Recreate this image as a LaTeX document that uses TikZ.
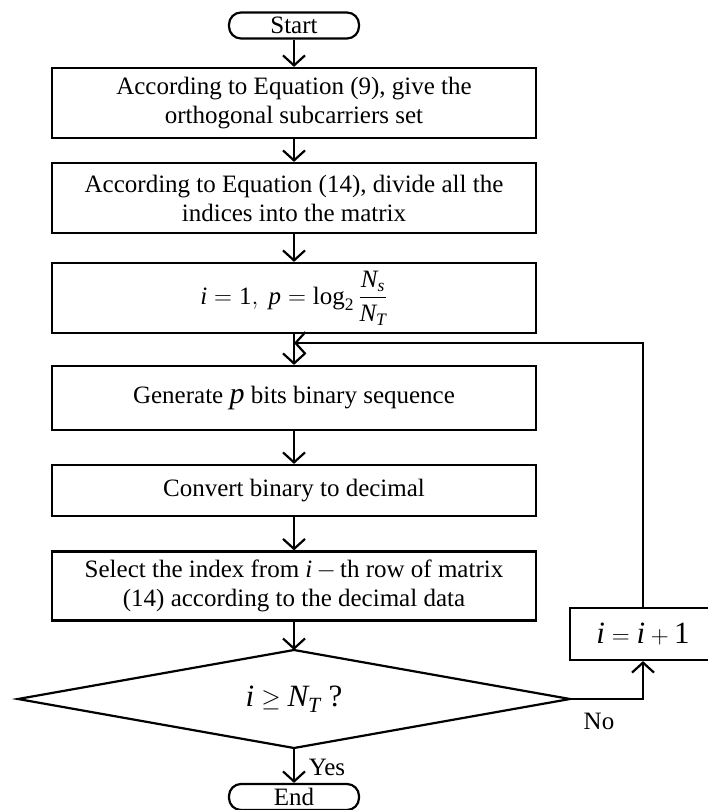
\documentclass[tikz,border=0pt]{standalone}
\usepackage{amsmath}
\usepackage{fontspec}
\setmainfont{Liberation Serif}
\usetikzlibrary{arrows.meta,shapes.geometric,calc}
\newcommand{\mi}[1]{\textit{#1}}
\begin{document}
\begin{tikzpicture}[x=1pt,y=-1pt,line width=2.2pt,
  txt/.style={font=\fontsize{25}{29}\selectfont},
  big/.style={font=\fontsize{31}{34}\selectfont},
  box/.style={draw,rectangle,minimum width=484pt,align=center,inner sep=0pt,txt},
  term/.style={draw,rounded corners=12pt,minimum width=130pt,minimum height=26pt,inner sep=0pt,txt},
  arr/.style={-{Straight Barb[length=10pt,width=22pt]}}]
\useasboundingbox (0,0) rectangle (707,810);
\node[term] (start) at (294,25.5) {Start};
\node[box,minimum height=70pt] (b1) at (294,103) {According to Equation (9), give the\\orthogonal subcarriers set};
\node[box,minimum height=70pt] (b2) at (294,198) {According to Equation (14), divide all the\\indices into the matrix};
\node[box,minimum height=70pt] (b3) at (294,298) {$\mi{i}=\textrm{1},\ \mi{p}=\textrm{log}_{\textrm{2}}\,\dfrac{\mi{N}_{\mi{s}}}{\mi{N}_{\mi{T}}}$};
\node[box,minimum height=64pt] (b4) at (294,398) {Generate {\fontsize{30}{30}\selectfont\mi{p}} bits binary sequence};
\node[box,minimum height=51pt] (b5) at (294,490.5) {Convert binary to decimal};
\node[box,minimum height=69pt] (b6) at (294,586) {Select the index from \mi{i}\,$-$\,th row of matrix\\(14) according to the decimal data};
% decision diamond
\coordinate (dt) at (294,650);
\coordinate (db) at (294,748);
\coordinate (dl) at (18,699);
\coordinate (dr) at (570,699);
\draw (dt) -- (dr) -- (db) -- (dl) -- cycle;
\node[big] (dia) at (294,699) {$\mi{i}\geq\mi{N}_{\mi{T}}$ ?};
\node[draw,rectangle,minimum width=146pt,minimum height=52pt,inner sep=0pt,big] (inc) at (643,634) {$\mi{i}=\mi{i}+\textrm{1}$};
\node[term] (end) at (294,797) {End};
\coordinate (join) at (294,343);
\node[txt] (no) at (599,721) {No};
\node[txt] (yes) at (327,767) {Yes};
\draw[arr] (start) -- (b1);
\draw[arr] (b1) -- (b2);
\draw[arr] (b2) -- (b3);
\draw[arr] (b3) -- (b4);
\draw[arr] (b4) -- (b5);
\draw[arr] (b5) -- (b6);
\draw[arr] (b6) -- (dt);
\draw[arr] (db) -- (end);
\draw[arr] (dr) -| (inc.south);
\draw[arr] (inc.north) |- (join);
\end{tikzpicture}
\end{document}
